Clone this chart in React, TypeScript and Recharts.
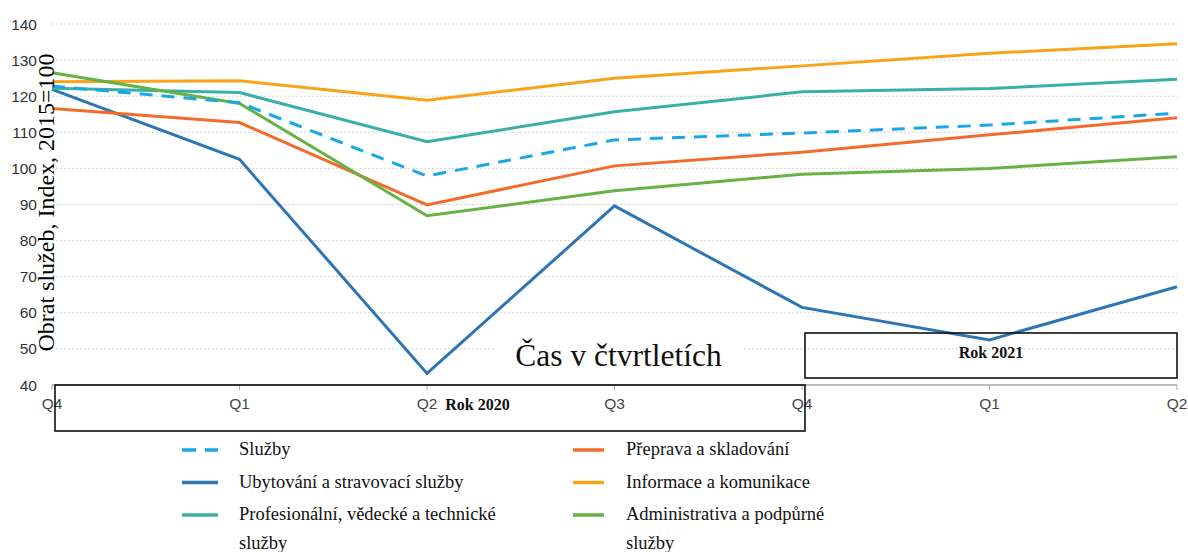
import { CartesianGrid, Line, LineChart, XAxis, YAxis } from "recharts";

const QUARTERS = ["Q4", "Q1", "Q2", "Q3", "Q4", "Q1", "Q2"];
const Y_TICKS = [40, 50, 60, 70, 80, 90, 100, 110, 120, 130, 140];

const SLUZBY = [122.8, 118.2, 97.9, 107.9, 109.8, 112.0, 115.3];
const UBYTOVANI = [121.9, 102.5, 43.2, 89.6, 61.5, 52.5, 67.2];
const PROFESIONALNI = [122.2, 121.0, 107.4, 115.7, 121.2, 122.1, 124.7];
const PREPRAVA = [116.6, 112.7, 89.9, 100.7, 104.5, 109.3, 114.0];
const INFORMACE = [124.0, 124.3, 118.9, 125.0, 128.4, 131.9, 134.5];
const ADMINISTRATIVA = [126.5, 118.0, 86.9, 93.8, 98.4, 100.0, 103.2];

const SERIES = [
  { key: "ubytovani", name: "Ubytování a stravovací služby", values: UBYTOVANI, color: "#2e75b6" },
  { key: "profesionalni", name: "Profesionální, vědecké a technické|služby", values: PROFESIONALNI, color: "#3aafa9" },
  { key: "preprava", name: "Přeprava a skladování", values: PREPRAVA, color: "#f26b2b" },
  { key: "informace", name: "Informace a komunikace", values: INFORMACE, color: "#f9a31b" },
  { key: "administrativa", name: "Administrativa a podpůrné|služby", values: ADMINISTRATIVA, color: "#66b245" },
  { key: "sluzby", name: "Služby", values: SLUZBY, color: "#19a7e8", dash: "13 9" },
];

// legend order as in the picture: two columns
const LEGEND_COLS = [
  ["sluzby", "ubytovani", "profesionalni"],
  ["preprava", "informace", "administrativa"],
];

const data = QUARTERS.map((q, i) => {
  const row: any = { idx: i, q };
  SERIES.forEach((s) => (row[s.key] = s.values[i]));
  return row;
});

const SERIF = "'Liberation Serif', 'Times New Roman', serif";
const SANS = "'Liberation Sans', Arial, sans-serif";

function Overlay() {
  const colX = [{ icon: 182, iconEnd: 218, text: 239 }, { icon: 573, iconEnd: 604, text: 626 }];
  return (
    <svg width={1188} height={552} style={{ position: "absolute", left: 0, top: 0, pointerEvents: "none" }}>
      <text
        transform="translate(54,202.5) rotate(-90)"
        textAnchor="middle"
        fontFamily={SERIF}
        fontSize={24}
        fill="#000"
      >
        Obrat služeb, Index, 2015=100
      </text>

      <rect x={495} y={333} width={248} height={46} fill="#fff" />
      <text x={618.5} y={366} textAnchor="middle" fontFamily={SERIF} fontSize={31.5} fill="#111">
        Čas v čtvrtletích
      </text>

      <rect x={55} y={385} width={750} height={46} fill="none" stroke="#111" strokeWidth={1.6} />
      <text x={477.5} y={410} textAnchor="middle" fontFamily={SERIF} fontWeight="bold" fontSize={16} fill="#111">
        Rok 2020
      </text>
      <rect x={805} y={333} width={372} height={45} fill="none" stroke="#111" strokeWidth={1.6} />
      <text x={991} y={358} textAnchor="middle" fontFamily={SERIF} fontWeight="bold" fontSize={16} fill="#111">
        Rok 2021
      </text>

      {LEGEND_COLS.map((col, ci) =>
        col.map((key, ri) => {
          const s = SERIES.find((x) => x.key === key)!;
          const cy = 450 + ri * 32.5;
          const lines = s.name.split("|");
          return (
            <g key={key}>
              <line
                x1={colX[ci].icon}
                x2={colX[ci].iconEnd}
                y1={cy}
                y2={cy}
                stroke={s.color}
                strokeWidth={3.5}
                strokeDasharray={s.dash ? "14 9" : undefined}
              />
              {lines.map((t, li) => (
                <text
                  key={li}
                  x={colX[ci].text}
                  y={cy + 5 + li * 28.5}
                  fontFamily={SERIF}
                  fontSize={18.5}
                  fill="#111"
                >
                  {t}
                </text>
              ))}
            </g>
          );
        })
      )}
    </svg>
  );
}

export default function App() {
  return (
    <div style={{ position: "absolute", left: 0, top: 0, width: 1188, height: 552, background: "#fff" }}>
      <LineChart width={1188} height={552} data={data} margin={{ top: 24, right: 11, left: 8, bottom: 137 }}>
        <CartesianGrid vertical={false} stroke="#d3d3d3" strokeDasharray="2 2" />
        <XAxis
          dataKey="idx"
          type="category"
          tickFormatter={(i: number) => QUARTERS[i]}
          height={30}
          tickSize={5}
          tickMargin={8}
          axisLine={{ stroke: "#aaaaaa", strokeWidth: 1.5 }}
          tickLine={{ stroke: "#aaaaaa" }}
          tick={{ fill: "#444", fontSize: 15.5, fontFamily: SANS }}
          interval={0}
        />
        <YAxis
          domain={[40, 140]}
          ticks={Y_TICKS}
          width={44}
          axisLine={false}
          tickLine={false}
          tickSize={0}
          tickMargin={15}
          tick={{ fill: "#333", fontSize: 15.5, fontFamily: SANS }}
        />
        {SERIES.map((s) => (
          <Line
            key={s.key}
            dataKey={s.key}
            stroke={s.color}
            strokeWidth={3}
            strokeDasharray={s.dash}
            dot={false}
            activeDot={false}
            isAnimationActive={false}
          />
        ))}
      </LineChart>
      <Overlay />
    </div>
  );
}
